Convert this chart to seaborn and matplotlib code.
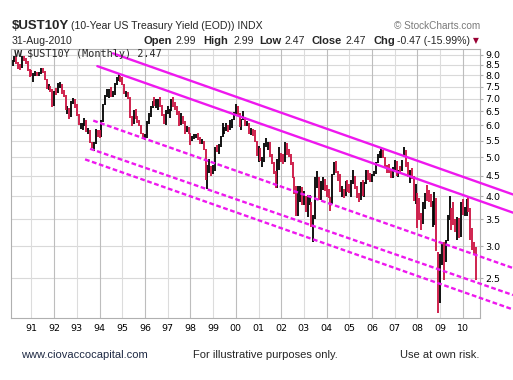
import numpy as np
import pandas as pd
import matplotlib
matplotlib.use("Agg")
import matplotlib.pyplot as plt
from matplotlib.ticker import NullLocator, FixedLocator
import seaborn as sns

# ---------------- data (monthly bars, Mar-1990 .. Aug-2010) ----------------
start_month = "1990-03"
end_month = "2010-08"
prev_close_first = 8.51

close = [
    8.65, 8.88, 8.60, 8.43, 8.36, 8.80, 8.78, 8.62, 8.25, 8.07,                    # 1990
    8.03, 8.09, 8.11, 8.05, 8.08, 8.28, 8.17, 7.82, 7.43, 7.46, 7.38, 6.70,        # 1991
    7.29, 7.25, 7.54, 7.59, 7.28, 7.11, 6.59, 6.61, 6.35, 6.82, 6.95, 6.69,        # 1992
    6.36, 6.03, 6.03, 6.05, 6.14, 5.80, 5.80, 5.45, 5.38, 5.43, 5.82, 5.79,        # 1993
    5.64, 6.14, 6.74, 7.04, 7.15, 7.32, 7.11, 7.17, 7.60, 7.81, 7.91, 7.82,        # 1994
    7.58, 7.20, 7.20, 7.06, 6.28, 6.20, 6.43, 6.28, 6.17, 6.02, 5.74, 5.57,        # 1995
    5.59, 6.10, 6.33, 6.67, 6.85, 6.73, 6.80, 6.94, 6.72, 6.37, 6.06, 6.42,        # 1996
    6.49, 6.55, 6.90, 6.72, 6.66, 6.50, 6.01, 6.34, 6.10, 5.83, 5.87, 5.74,        # 1997
    5.51, 5.62, 5.65, 5.67, 5.55, 5.45, 5.49, 5.26, 4.42, 4.61, 4.71, 4.65,        # 1998
    4.65, 5.29, 5.24, 5.35, 5.62, 5.78, 5.90, 5.97, 5.88, 6.02, 6.19, 6.44,        # 1999
    6.68, 6.41, 6.00, 6.21, 6.27, 6.03, 6.03, 5.73, 5.80, 5.75, 5.47, 5.11,        # 2000
    5.11, 4.90, 4.92, 5.34, 5.38, 5.41, 5.05, 4.83, 4.59, 4.23, 4.75, 5.05,        # 2001
    5.03, 4.88, 5.40, 5.09, 5.04, 4.80, 4.46, 4.14, 3.59, 3.89, 4.21, 3.82,        # 2002
    3.96, 3.69, 3.80, 3.84, 3.37, 3.51, 4.41, 4.46, 3.94, 4.30, 4.33, 4.25,        # 2003
    4.13, 3.97, 3.84, 4.51, 4.65, 4.62, 4.48, 4.12, 4.12, 4.03, 4.35, 4.22,        # 2004
    4.13, 4.36, 4.48, 4.20, 3.99, 3.94, 4.28, 4.02, 4.32, 4.56, 4.49, 4.39,        # 2005
    4.52, 4.55, 4.85, 5.07, 5.12, 5.14, 4.99, 4.73, 4.63, 4.61, 4.46, 4.70,        # 2006
    4.83, 4.56, 4.65, 4.63, 4.89, 5.03, 4.74, 4.53, 4.59, 4.48, 3.97, 4.02,        # 2007
    3.59, 3.51, 3.45, 3.73, 4.06, 3.97, 3.95, 3.81, 3.83, 3.95, 2.92, 2.21,        # 2008
    2.84, 3.01, 2.67, 3.11, 3.46, 3.53, 3.48, 3.40, 3.31, 3.39, 3.20, 3.84,        # 2009
    3.60, 3.61, 3.83, 3.66, 3.29, 2.95, 2.94, 2.47,                                # 2010
]
high = [
    8.72, 8.95, 8.92, 8.63, 8.55, 8.95, 8.95, 8.85, 8.66, 8.30,
    8.25, 8.12, 8.20, 8.15, 8.15, 8.35, 8.35, 8.20, 7.85, 7.60, 7.52, 7.40,
    7.30, 7.42, 7.65, 7.68, 7.62, 7.35, 7.15, 6.70, 6.65, 6.90, 7.03, 6.99,
    6.78, 6.40, 6.10, 6.08, 6.26, 6.18, 5.90, 5.85, 5.45, 5.46, 5.87, 5.86,
    5.85, 6.18, 6.80, 7.16, 7.40, 7.40, 7.48, 7.30, 7.65, 7.90, 8.05, 7.95,
    7.92, 7.60, 7.32, 7.25, 7.08, 6.35, 6.55, 6.60, 6.35, 6.20, 6.03, 5.76,
    5.72, 6.15, 6.44, 6.71, 6.91, 7.05, 7.00, 7.00, 7.08, 6.75, 6.40, 6.55,
    6.72, 6.59, 6.98, 7.08, 6.85, 6.72, 6.52, 6.45, 6.35, 6.15, 5.97, 5.95,
    5.75, 5.65, 5.70, 5.72, 5.73, 5.60, 5.55, 5.50, 5.25, 4.79, 4.95, 4.76,
    4.78, 5.30, 5.35, 5.38, 5.65, 6.07, 5.95, 6.10, 6.00, 6.20, 6.24, 6.48,
    6.79, 6.72, 6.43, 6.24, 6.53, 6.30, 6.17, 6.07, 5.93, 5.87, 5.85, 5.48,
    5.33, 5.26, 5.00, 5.42, 5.57, 5.45, 5.45, 5.08, 4.88, 4.63, 4.95, 5.29,
    5.12, 5.10, 5.47, 5.42, 5.24, 5.09, 4.87, 4.47, 4.23, 4.25, 4.24, 4.21,
    4.12, 4.00, 4.03, 4.02, 3.87, 3.60, 4.46, 4.61, 4.47, 4.37, 4.46, 4.41,
    4.26, 4.18, 3.98, 4.55, 4.87, 4.89, 4.63, 4.54, 4.25, 4.17, 4.37, 4.38,
    4.30, 4.38, 4.65, 4.50, 4.24, 4.08, 4.33, 4.39, 4.35, 4.65, 4.64, 4.56,
    4.54, 4.62, 4.86, 5.09, 5.19, 5.25, 5.20, 5.00, 4.77, 4.80, 4.67, 4.72,
    4.91, 4.90, 4.66, 4.75, 4.91, 5.30, 5.20, 4.87, 4.65, 4.70, 4.48, 4.29,
    4.07, 3.95, 3.63, 3.87, 4.08, 4.27, 4.15, 4.06, 3.90, 4.10, 3.97, 2.91,
    2.87, 3.06, 3.08, 3.12, 3.60, 4.00, 3.74, 3.88, 3.50, 3.56, 3.52, 3.86,
    3.93, 3.76, 3.93, 4.01, 3.74, 3.34, 3.08, 2.99,
]
low = [
    8.45, 8.62, 8.55, 8.30, 8.25, 8.35, 8.68, 8.52, 8.20, 7.92,
    7.95, 7.70, 7.98, 7.97, 7.97, 8.05, 8.12, 7.80, 7.40, 7.35, 7.28, 6.68,
    6.70, 7.13, 7.22, 7.45, 7.20, 7.06, 6.55, 6.40, 6.22, 6.30, 6.78, 6.62,
    6.34, 6.00, 5.87, 5.85, 5.98, 5.78, 5.70, 5.42, 5.28, 5.17, 5.40, 5.63,
    5.58, 5.62, 6.12, 6.76, 7.05, 7.02, 7.08, 7.05, 7.13, 7.55, 7.72, 7.70,
    7.55, 7.17, 7.08, 7.00, 6.25, 5.98, 6.05, 6.22, 6.09, 5.98, 5.70, 5.55,
    5.51, 5.57, 6.05, 6.30, 6.64, 6.72, 6.62, 6.57, 6.68, 6.32, 6.05, 6.02,
    6.40, 6.28, 6.53, 6.68, 6.55, 6.38, 5.98, 6.01, 6.05, 5.72, 5.78, 5.70,
    5.35, 5.48, 5.55, 5.58, 5.52, 5.40, 5.40, 5.22, 4.40, 4.16, 4.58, 4.50,
    4.55, 4.62, 5.14, 5.10, 5.30, 5.60, 5.70, 5.80, 5.78, 5.85, 5.91, 6.18,
    6.40, 6.36, 5.96, 5.83, 6.20, 5.98, 5.97, 5.70, 5.69, 5.66, 5.45, 5.03,
    4.88, 4.89, 4.73, 4.86, 5.30, 5.20, 5.02, 4.80, 4.53, 4.20, 4.19, 4.66,
    4.88, 4.82, 4.87, 5.06, 5.01, 4.78, 4.45, 4.05, 3.58, 3.57, 3.86, 3.80,
    3.80, 3.65, 3.55, 3.80, 3.35, 3.07, 3.50, 4.20, 3.92, 3.92, 4.15, 4.12,
    3.99, 3.97, 3.68, 3.82, 4.51, 4.58, 4.37, 4.10, 3.98, 3.97, 4.00, 4.09,
    4.07, 3.99, 4.30, 4.16, 3.97, 3.87, 3.92, 4.00, 3.98, 4.30, 4.40, 4.35,
    4.33, 4.50, 4.55, 4.83, 4.97, 4.98, 4.97, 4.72, 4.57, 4.57, 4.43, 4.44,
    4.66, 4.50, 4.46, 4.58, 4.62, 5.00, 4.72, 4.46, 4.32, 4.41, 3.89, 3.83,
    3.34, 3.48, 3.30, 3.41, 3.71, 3.90, 3.87, 3.76, 3.36, 3.40, 2.92, 2.05,
    2.17, 2.70, 2.47, 2.75, 3.10, 3.49, 3.30, 3.39, 3.25, 3.11, 3.15, 3.17,
    3.59, 3.58, 3.58, 3.65, 3.11, 2.94, 2.87, 2.47,
]

yticks_vals = [2.5, 3.0, 3.5, 4.0, 4.5, 5.0, 5.5, 6.0, 6.5, 7.0, 7.5, 8.0, 8.5, 9.0]
year_ticks = list(range(1991, 2011))

# trendlines: (start year, start value, end year, end value)
solid_lines = [
    (1994.59, 9.07, 2012.21, 4.04),
    (1993.90, 8.43, 2012.21, 3.64),
]
dashed_lines = [
    (1993.72, 6.17, 2012.21, 2.65),
    (1993.58, 5.25, 2012.21, 2.27),
    (1993.36, 4.94, 2012.21, 2.09),
]

# ---------------- build frame ----------------
months = pd.period_range(start_month, end_month, freq="M")
df = pd.DataFrame({
    "t": months.year + (months.month - 1) / 12.0,
    "close": close, "high": high, "low": low,
})
df["prev"] = [prev_close_first] + close[:-1]
df["up"] = df["close"] >= df["prev"]

W, H = 513, 380
sns.set_style("white")
plt.rcParams["font.family"] = ["Liberation Sans", "DejaVu Sans"]

fig = plt.figure(figsize=(W / 100, H / 100), dpi=100)
L, R, T, B = 11, 480, 49, 318
ax = fig.add_axes([L / W, 1 - B / H, (R - L) / W, (B - T) / H])

ax.set_yscale("log")
ax.set_ylim(1.99, 9.30)
ax.set_xlim(1990.097, 2010.757)

# grid
for v in yticks_vals:
    ax.axhline(v, color="#d9d9d9", lw=0.8, zorder=0)
for yr in year_ticks:
    ax.axvline(yr, color="#bdbdbd" if yr % 2 == 0 else "#dcdcdc", lw=0.8, zorder=0)

RED = "#cc1140"
up = df[df["up"]]
dn = df[~df["up"]]
ax.vlines(up["t"], up["low"], up["high"], color="black", lw=1.3, zorder=2)
ax.vlines(dn["t"], dn["low"], dn["high"], color=RED, lw=1.3, zorder=2)

MAG = "#ee18ee"
for (x0, y0, x1, y1) in solid_lines:
    sns.lineplot(x=[x0, x1], y=[y0, y1], ax=ax, color=MAG, lw=1.7,
                 sort=False, estimator=None, clip_on=False, zorder=4)
for (x0, y0, x1, y1) in dashed_lines:
    sns.lineplot(x=[x0, x1], y=[y0, y1], ax=ax, color=MAG, lw=1.7,
                 sort=False, estimator=None, clip_on=False, zorder=4)
    ax.lines[-1].set_dashes((2.0, 1.1))

ax.set_xlabel("")
ax.set_ylabel("")

# ticks
ax.yaxis.tick_right()
ax.yaxis.set_major_locator(FixedLocator(yticks_vals))
ax.yaxis.set_minor_locator(NullLocator())
ax.set_yticklabels([f"{v:.1f}" for v in yticks_vals], family="DejaVu Sans", fontsize=6.8)
ax.set_xticks(year_ticks)
ax.set_xticklabels([f"{y % 100:02d}" for y in year_ticks], family="DejaVu Sans", fontsize=6.8)
ax.tick_params(axis="y", length=2, pad=2, color="#b0b0b0", labelcolor="black", right=True, left=False)
ax.tick_params(axis="x", length=2, pad=2.5, color="#b0b0b0", labelcolor="black")
for s in ax.spines.values():
    s.set_color("#b0b0b0")
    s.set_linewidth(0.8)
    s.set_visible(True)

# ---------------- texts ----------------
def put(x, y, s, **kw):
    return fig.text(x / W, 1 - y / H, s, va="baseline", **kw)

fig.canvas.draw()
rend = fig.canvas.get_renderer()

t1 = put(12, 29.3, "$UST10Y", fontsize=9.5, fontweight="bold")
w1 = t1.get_window_extent(rend).width
put(12 + w1 + 2, 29.3, "(10-Year US Treasury Yield (EOD)) INDX", fontsize=7.6)
put(480, 29.3, "\u00a9 StockCharts.com", fontsize=7.2, color="#7a7a7a", ha="right")

put(12, 43.5, "31-Aug-2010", fontsize=7.6)
parts = [
    (143, "Open", True), (176, "2.99", False), (203, "High", True), (233, "2.99", False),
    (259, "Low", True), (284.5, "2.47", False), (311, "Close", True), (346, "2.47", False),
    (373, "Chg", True), (397, "-0.47 (-15.99%)", False),
]
for x, s, b in parts:
    put(x, 43.5, s, fontsize=8.0 if b else 7.6, fontweight="bold" if b else "normal")
put(473, 43.5, "\u25bc", fontsize=5.5, color="#990033", family="DejaVu Sans")

put(14, 57.3, "W", fontsize=5.5, fontweight="bold", family="DejaVu Sans")
put(27, 57.3, "$UST10Y (Monthly) 2.47", fontsize=7.3, family="DejaVu Sans Mono")

put(20.7, 358.5, "www.ciovaccocapital.com", fontsize=8, color="#1f2a44")
put(193, 358.5, "For illustrative purposes only.", fontsize=8)
put(479, 358.5, "Use at own risk.", fontsize=8, ha="right")

fig.savefig("out.png", dpi=100)
